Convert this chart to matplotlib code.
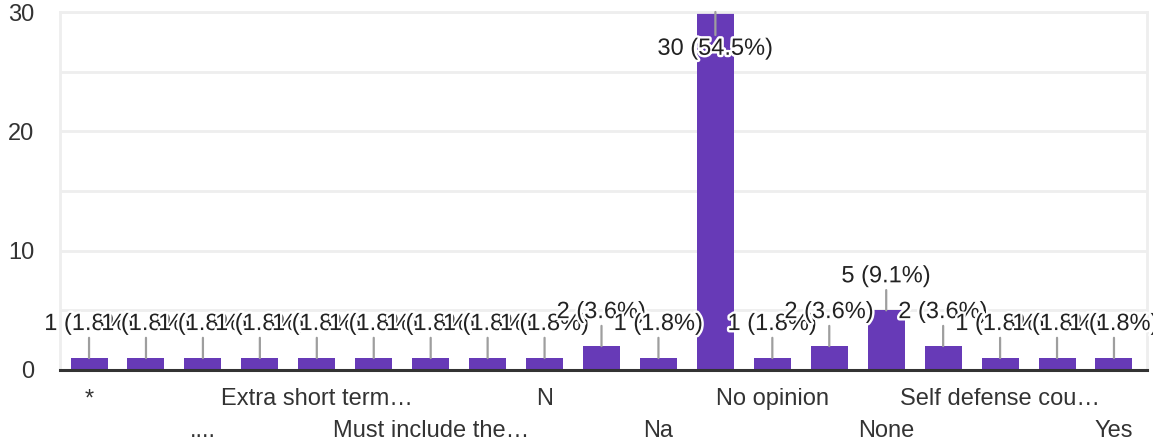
import matplotlib.pyplot as plt
import matplotlib.patheffects as pe
import numpy as np

# responses per answer (19 answers, only every other one gets a tick label)
counts = [1, 1, 1, 1, 1, 1, 1, 1, 1, 2, 1, 30, 1, 2, 5, 2, 1, 1, 1]
shown_labels = ["*", "....", "Extra short term…", "Must include the…", "N",
                "Na", "No opinion", "None", "Self defense cou…", "Yes"]
y_ticks = [0, 10, 20, 30]

purple = "#673ab7"
plt.rcParams['font.family'] = ['Liberation Sans', 'DejaVu Sans']

fig = plt.figure(figsize=(11.53, 4.46), dpi=100)
ax = fig.add_axes([60/1153, 76/446, 1087/1153, 358/446])

x = np.arange(len(counts))
total = sum(counts)
ax.bar(x, counts, width=0.65, color=purple, zorder=2)

ax.set_xlim(-0.51, 18.58)
ax.set_ylim(0, 30)

# labels with leader lines, white halo like the original
for i, c in enumerate(counts):
    txt = f"{c} ({c/total*100:.1f}%)"
    off = -26.5 if c >= 30 else 24.5
    ax.annotate(txt, xy=(i, c), xytext=(0, off), textcoords='offset points',
                ha='center', va='center', fontsize=17, color='#222222',
                arrowprops=dict(arrowstyle='-', color='#9e9e9e', lw=1.6,
                                shrinkA=0, shrinkB=0),
                path_effects=[pe.withStroke(linewidth=3.5, foreground='white')],
                zorder=5, annotation_clip=False)

# alternating two-row tick labels
pos = x[::2]
lbls = [l if k % 2 == 0 else "\n" + l for k, l in enumerate(shown_labels)]
ax.set_xticks(pos)
ax.set_xticklabels(lbls, fontsize=17, color='#333333', linespacing=1.6, va='top')
ax.tick_params(axis='x', length=0, pad=13)

ax.set_yticks(y_ticks)
ax.set_yticks([5, 15, 25], minor=True)
ax.tick_params(axis='y', which='both', length=0, pad=18.5, labelsize=17, labelcolor='#333333')
ax.grid(axis='y', which='both', color='#eeeeee', lw=2, zorder=0)
ax.set_axisbelow(True)

for s in ['left', 'right', 'top']:
    ax.spines[s].set_color('#eeeeee')
    ax.spines[s].set_linewidth(2)
ax.spines['bottom'].set_color('#333333')
ax.spines['bottom'].set_linewidth(2.2)
ax.spines['bottom'].set_zorder(3)

fig.savefig("out.png", dpi=100)
